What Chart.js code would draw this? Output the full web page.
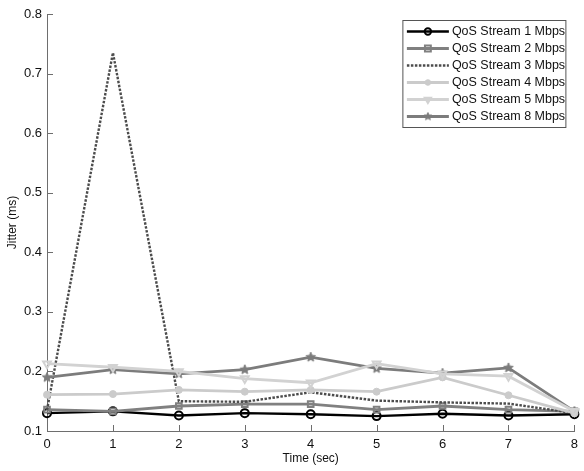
<!DOCTYPE html>
<html>
<head>
<meta charset="utf-8">
<script src="https://cdn.jsdelivr.net/npm/chart.js@4/dist/chart.umd.min.js"></script>
<style>
  html, body { margin: 0; padding: 0; background: #fff; }
  #wrap { width: 584px; height: 471px; position: relative; }
</style>
</head>
<body>
<div id="wrap"><canvas id="c" width="584" height="471"></canvas></div>
<script>
// Time axis (seconds)
const timeSec = [0, 1, 2, 3, 4, 5, 6, 7, 8];
const yTicks = [0.1, 0.2, 0.3, 0.4, 0.5, 0.6, 0.7, 0.8];

// Jitter (ms) per QoS stream
const stream1 = [0.130, 0.133, 0.126, 0.130, 0.128, 0.125, 0.129, 0.126, 0.128];
const stream2 = [0.136, 0.133, 0.142, 0.145, 0.145, 0.136, 0.142, 0.136, 0.133];
const stream3 = [0.135, 0.735, 0.150, 0.149, 0.165, 0.151, 0.148, 0.146, 0.130];
const stream4 = [0.161, 0.162, 0.169, 0.166, 0.169, 0.166, 0.190, 0.160, 0.130];
const stream5 = [0.213, 0.207, 0.200, 0.188, 0.181, 0.213, 0.196, 0.192, 0.133];
const stream8 = [0.190, 0.203, 0.196, 0.203, 0.224, 0.205, 0.197, 0.206, 0.133];

const seriesNames = ['QoS Stream 1 Mbps', 'QoS Stream 2 Mbps', 'QoS Stream 3 Mbps',
                     'QoS Stream 4 Mbps', 'QoS Stream 5 Mbps', 'QoS Stream 8 Mbps'];

const FONT = '"Liberation Sans", Arial, sans-serif';
const AXIS_GREY = '#6e6e6e';

// filled pentagram marker
function makeStar(color, r) {
  const s = Math.ceil(r * 2 + 2);
  const cv = document.createElement('canvas');
  cv.width = s; cv.height = s;
  const g = cv.getContext('2d');
  const cx = s / 2, cy = s / 2, ri = r * 0.45;
  g.beginPath();
  for (let i = 0; i < 10; i++) {
    const a = -Math.PI / 2 + i * Math.PI / 5;
    const rr = i % 2 === 0 ? r : ri;
    const px = cx + rr * Math.cos(a), py = cy + rr * Math.sin(a);
    if (i === 0) g.moveTo(px, py); else g.lineTo(px, py);
  }
  g.closePath();
  g.fillStyle = color; g.fill();
  g.strokeStyle = color; g.lineWidth = 1; g.stroke();
  return cv;
}

const pts = arr => arr.map((v, i) => ({ x: timeSec[i], y: v }));

const styles = [
  { color: '#000000', width: 2.4, dash: [], point: 'circle', radius: 4, fill: 'rgba(255,255,255,0)', pw: 2 },
  { color: '#808080', width: 2.8, dash: [], point: 'rect', radius: 4, fill: 'rgba(255,255,255,0)', pw: 2 },
  { color: '#4c4c4c', width: 2.4, dash: [2.5, 1.5], point: false, radius: 0, fill: 'transparent', pw: 0 },
  { color: '#cbcbcb', width: 2.8, dash: [], point: 'circle', radius: 3.5, fill: '#cbcbcb', pw: 1 },
  { color: '#d2d2d2', width: 2.8, dash: [], point: 'triangle', radius: 4.5, fill: 'rgba(255,255,255,0)', pw: 2, rot: 180 },
  { color: '#7c7c7c', width: 2.8, dash: [], point: makeStar('#7c7c7c', 5), radius: 5, fill: '#7c7c7c', pw: 1 }
];
const legendStar = makeStar('#7c7c7c', 4);

const seriesData = [stream1, stream2, stream3, stream4, stream5, stream8];

// draw order: lightest first so dark lines stay on top
const order = [4, 3, 5, 2, 1, 0];
const datasets = seriesData.map((d, i) => {
  const s = styles[i];
  return {
    label: seriesNames[i],
    data: pts(d),
    borderColor: s.color,
    borderWidth: s.width,
    borderDash: s.dash,
    backgroundColor: s.fill,
    pointStyle: s.point,
    pointRadius: s.radius,
    pointHoverRadius: s.radius,
    pointBorderColor: s.color,
    pointBackgroundColor: s.fill,
    pointBorderWidth: s.pw,
    pointRotation: s.rot || 0,
    tension: 0,
    fill: false,
    clip: false,
    order: order.indexOf(i)
  };
});

// legend sample markers, a little smaller than the plotted ones
function drawMarker(ctx, s, x, y) {
  if (!s.point) return;
  ctx.save();
  ctx.setLineDash([]);
  ctx.lineWidth = s.pw;
  ctx.strokeStyle = s.color;
  ctx.fillStyle = s.fill;
  const r = s.radius * 0.8;
  if (s.point instanceof HTMLCanvasElement) {
    ctx.drawImage(legendStar, x - legendStar.width / 2, y - legendStar.height / 2);
  } else if (s.point === 'circle') {
    ctx.beginPath(); ctx.arc(x, y, r, 0, Math.PI * 2); ctx.fill(); ctx.stroke();
  } else if (s.point === 'rect') {
    const h = r / Math.SQRT2 * 1.3;
    ctx.beginPath(); ctx.rect(x - h, y - h, 2 * h, 2 * h); ctx.fill(); ctx.stroke();
  } else if (s.point === 'triangle') {
    ctx.beginPath();
    ctx.moveTo(x - r * 0.87, y - r * 0.5);
    ctx.lineTo(x + r * 0.87, y - r * 0.5);
    ctx.lineTo(x, y + r);
    ctx.closePath(); ctx.fill(); ctx.stroke();
  }
  ctx.restore();
}

// inward tick marks on both axes
const innerTicks = {
  id: 'innerTicks',
  afterDatasetsDraw(chart) {
    const { ctx, chartArea, scales } = chart;
    ctx.save();
    ctx.strokeStyle = AXIS_GREY;
    ctx.lineWidth = 1;
    ctx.beginPath();
    scales.x.ticks.forEach(t => {
      const px = Math.round(scales.x.getPixelForValue(t.value)) + 0.5;
      ctx.moveTo(px, chartArea.bottom);
      ctx.lineTo(px, chartArea.bottom - 6);
    });
    scales.y.ticks.forEach(t => {
      const py = Math.round(scales.y.getPixelForValue(t.value)) + 0.5;
      ctx.moveTo(chartArea.left, py);
      ctx.lineTo(chartArea.left + 6, py);
    });
    ctx.stroke();
    ctx.restore();
  }
};

// boxed legend in the upper right of the plot
const boxLegend = {
  id: 'boxLegend',
  afterDraw(chart) {
    const { ctx, chartArea } = chart;
    const bx = chartArea.right - 171.5, by = chartArea.top + 6.5, bw = 163, bh = 107;
    ctx.save();
    ctx.fillStyle = '#ffffff';
    ctx.fillRect(bx, by, bw, bh);
    ctx.strokeStyle = '#555555';
    ctx.lineWidth = 1;
    ctx.strokeRect(bx, by, bw, bh);
    ctx.font = '12.5px ' + FONT;
    ctx.textBaseline = 'middle';
    ctx.textAlign = 'left';
    chart.data.datasets.forEach((ds, i) => {
      const s = styles[i];
      const y = by + 11 + i * 17;
      const x0 = bx + 4, x1 = bx + 46;
      ctx.save();
      ctx.strokeStyle = s.color;
      ctx.lineWidth = s.width;
      ctx.setLineDash(s.dash);
      ctx.beginPath(); ctx.moveTo(x0, y); ctx.lineTo(x1, y); ctx.stroke();
      ctx.restore();
      drawMarker(ctx, s, (x0 + x1) / 2, y);
      ctx.fillStyle = '#111111';
      ctx.fillText(ds.label, bx + 49, y + 0.5);
    });
    ctx.restore();
  }
};

new Chart(document.getElementById('c'), {
  type: 'line',
  data: { datasets },
  options: {
    responsive: false,
    animation: false,
    events: [],
    layout: { padding: { top: 14, right: 4, left: 0, bottom: 0 } },
    plugins: { legend: { display: false }, tooltip: { enabled: false } },
    scales: {
      x: {
        type: 'linear',
        min: 0, max: 8,
        afterFit(scale) { scale.height = 40; },
        afterBuildTicks(scale) { scale.ticks = timeSec.map(v => ({ value: v })); },
        grid: { drawOnChartArea: false, drawTicks: false },
        border: { display: true, color: AXIS_GREY, width: 1 },
        ticks: { color: '#111', font: { family: FONT, size: 13 }, padding: 6, maxRotation: 0,
                 callback: v => String(v) },
        title: { display: true, text: 'Time (sec)', color: '#111',
                 font: { family: FONT, size: 12 }, padding: { top: 4, bottom: 5 } }
      },
      y: {
        type: 'linear',
        min: 0.1, max: 0.8,
        afterFit(scale) { scale.width = 47; },
        afterBuildTicks(scale) { scale.ticks = yTicks.map(v => ({ value: v })); },
        grid: { drawOnChartArea: false, drawTicks: false },
        border: { display: true, color: AXIS_GREY, width: 1 },
        ticks: { color: '#111', font: { family: FONT, size: 13 }, padding: 5,
                 callback: v => Number(v).toFixed(1) },
        title: { display: true, text: 'Jitter (ms)', color: '#111',
                 font: { family: FONT, size: 12 }, padding: { top: 5, bottom: 5 } }
      }
    }
  },
  plugins: [innerTicks, boxLegend]
});
</script>
</body>
</html>
